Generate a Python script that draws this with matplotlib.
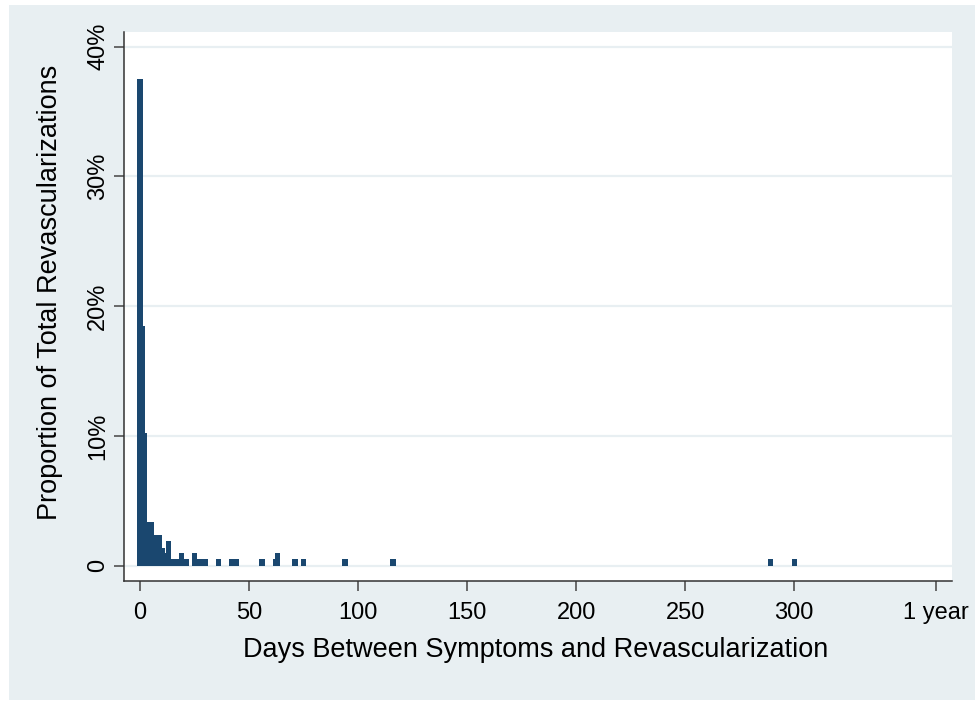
import numpy as np
import matplotlib.pyplot as plt
from matplotlib.patches import Rectangle

plt.rcParams['font.family'] = ['Liberation Sans', 'DejaVu Sans']

# days from symptoms to revascularization and share of all revascularizations (%)
days = [0, 1, 2, 3, 4, 5, 6, 7, 8, 9, 10, 11, 12, 13, 14, 16, 17, 19, 21,
        25, 27, 29, 30, 36, 42, 44, 56, 62, 63, 71, 75, 94, 116, 289, 300]
share = [37.5, 18.5, 10.2, 3.4, 3.4, 3.4, 2.4, 2.4, 2.4, 2.4, 1.4, 1.0, 1.0, 1.9,
         0.5, 0.5, 0.5, 1.0, 0.5, 1.0, 0.5, 0.5, 0.5, 0.5, 0.5, 0.5, 0.5, 0.5,
         1.0, 0.5, 0.5, 0.5, 0.5, 0.5, 0.5]

xticks = [0, 50, 100, 150, 200, 250, 300, 365]
xtick_labels = ['0', '50', '100', '150', '200', '250', '300', '1 year']
yticks = [0, 10, 20, 30, 40]
ytick_labels = ['0', '10%', '20%', '30%', '40%']

bar_color = '#1a476f'
panel_color = '#e8eff2'

fig = plt.figure(figsize=(9.79, 7.07), dpi=100)
# light Stata-like graph region behind the plot
fig.patches.append(Rectangle((9 / 979, 1 - 700 / 707), 966 / 979, 695 / 707,
                             transform=fig.transFigure, facecolor=panel_color,
                             edgecolor='none', zorder=-10))

ax = fig.add_axes([0.127, 0.1782, 0.8451, 0.777])
ax.set_facecolor('white')
ax.bar(days, share, width=2.5, color=bar_color, linewidth=0, zorder=3)

ax.set_xlim(-7.2, 372.2)
ax.set_ylim(-1.18, 41.16)

for y in yticks:
    ax.axhline(y, color=panel_color, linewidth=1.6, zorder=1)

ax.set_xticks(xticks)
ax.set_xticklabels(xtick_labels)
ax.set_yticks(yticks)
ax.set_yticklabels(ytick_labels, rotation=90, va='center')

ax.tick_params(axis='both', direction='out', length=7, width=1.1, color='#444444',
               labelsize=17, labelcolor='black')
ax.tick_params(axis='x', pad=8)
ax.tick_params(axis='y', pad=4)

for side in ['top', 'right']:
    ax.spines[side].set_visible(False)
for side in ['left', 'bottom']:
    ax.spines[side].set_color('#333333')
    ax.spines[side].set_linewidth(1.1)

ax.set_xlabel('Days Between Symptoms and Revascularization', fontsize=19.5)
ax.set_ylabel('Proportion of Total Revascularizations', fontsize=19.5)
ax.xaxis.set_label_coords(0.497, -0.1257)
ax.yaxis.set_label_coords(-0.0898, 0.526)
ax.xaxis.label.set_va('center')
ax.yaxis.label.set_va('center')

plt.savefig('out.png', dpi=100)
plt.close()
